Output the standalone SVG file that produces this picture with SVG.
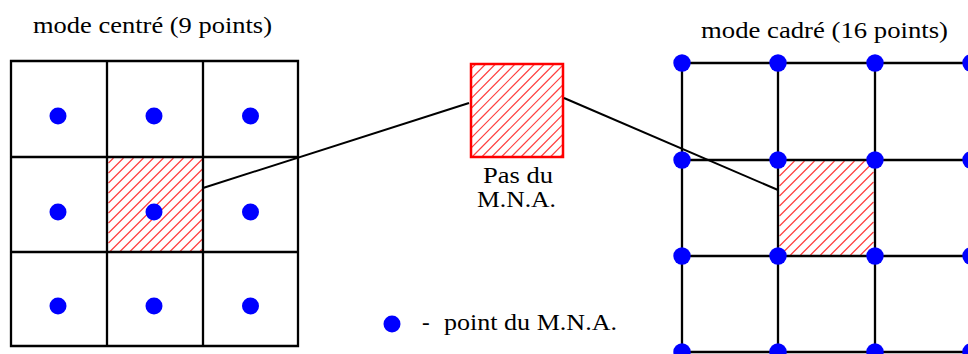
<svg xmlns="http://www.w3.org/2000/svg" width="968" height="354" viewBox="0 0 968 354">
<defs>
<path id="hatch" d="M0,5 L5,0 M0,15 L15,0 M0,25 L25,0 M0,35 L35,0 M0,45 L45,0 M0,55 L55,0 M0,65 L65,0 M0,75 L75,0 M0,85 L85,0 M1,94 L94,1 M11,94 L94,11 M21,94 L94,21 M31,94 L94,31 M41,94 L94,41 M51,94 L94,51 M61,94 L94,61 M71,94 L94,71 M81,94 L94,81 M91,94 L94,91"/>
</defs>
<style>
.grid{stroke:#000;stroke-width:2.3;fill:none}
.dot{fill:#0000ff}
.conn{stroke:#000;stroke-width:2;fill:none}
.hl{stroke:#ff4040;stroke-width:1.2;fill:none}
text{font-family:"Liberation Serif","Times New Roman",Times,"DejaVu Serif",serif;font-size:23px;fill:#000}
</style>
<rect width="968" height="354" fill="#fff"/>

<g id="left-grid">
<use href="#hatch" class="hl" transform="translate(108.5,158)"/>
<path class="grid" d="M11,61 H298 V346 H11 Z M107,61 V346 M203,61 V346 M11,157 H298 M11,252 H298"/>
<circle class="dot" cx="58" cy="116" r="8.5"/>
<circle class="dot" cx="154" cy="116" r="8.5"/>
<circle class="dot" cx="250.5" cy="116" r="8.5"/>
<circle class="dot" cx="58" cy="212" r="8.5"/>
<circle class="dot" cx="154" cy="212" r="8.5"/>
<circle class="dot" cx="250.5" cy="212" r="8.5"/>
<circle class="dot" cx="58" cy="306" r="8.5"/>
<circle class="dot" cx="154" cy="306" r="8.5"/>
<circle class="dot" cx="250.5" cy="306" r="8.5"/>
<text x="33" y="33" textLength="239" lengthAdjust="spacingAndGlyphs">mode centré (9 points)</text>
</g>

<g id="pas-du-mna">
<use href="#hatch" class="hl" transform="translate(471,64) scale(0.979,0.989)"/>
<rect x="471" y="64" width="92" height="93" fill="none" stroke="#ff0000" stroke-width="2.5"/>
<text x="483" y="183" textLength="70" lengthAdjust="spacingAndGlyphs">Pas du</text>
<text x="477" y="207" textLength="79" lengthAdjust="spacingAndGlyphs">M.N.A.</text>
</g>

<g id="right-grid">
<use href="#hatch" class="hl" transform="translate(779.5,161)"/>
<path class="grid" d="M682,63 H971 M682,160 H971 M682,256 H971 M682,352 H971 M682,63 V352 M778,63 V352 M875,63 V352 M971,63 V352"/>
<circle class="dot" cx="682" cy="63" r="8.7"/>
<circle class="dot" cx="778" cy="63" r="8.7"/>
<circle class="dot" cx="875" cy="63" r="8.7"/>
<circle class="dot" cx="971" cy="63" r="8.7"/>
<circle class="dot" cx="682" cy="160" r="8.7"/>
<circle class="dot" cx="778" cy="160" r="8.7"/>
<circle class="dot" cx="875" cy="160" r="8.7"/>
<circle class="dot" cx="971" cy="160" r="8.7"/>
<circle class="dot" cx="682" cy="256" r="8.7"/>
<circle class="dot" cx="778" cy="256" r="8.7"/>
<circle class="dot" cx="875" cy="256" r="8.7"/>
<circle class="dot" cx="971" cy="256" r="8.7"/>
<circle class="dot" cx="682" cy="352" r="8.7"/>
<circle class="dot" cx="778" cy="352" r="8.7"/>
<circle class="dot" cx="875" cy="352" r="8.7"/>
<circle class="dot" cx="971" cy="352" r="8.7"/>
<text x="701" y="38" textLength="247" lengthAdjust="spacingAndGlyphs">mode cadré (16 points)</text>
</g>

<g id="legend">
<circle class="dot" cx="392" cy="324" r="8.5"/>
<text x="422" y="330">-</text>
<text x="444" y="330" textLength="173" lengthAdjust="spacingAndGlyphs">point du M.N.A.</text>
</g>

<g id="connectors">
<line class="conn" x1="203" y1="188" x2="469" y2="103"/>
<line class="conn" x1="564" y1="98" x2="778" y2="190"/>
</g>
</svg>
